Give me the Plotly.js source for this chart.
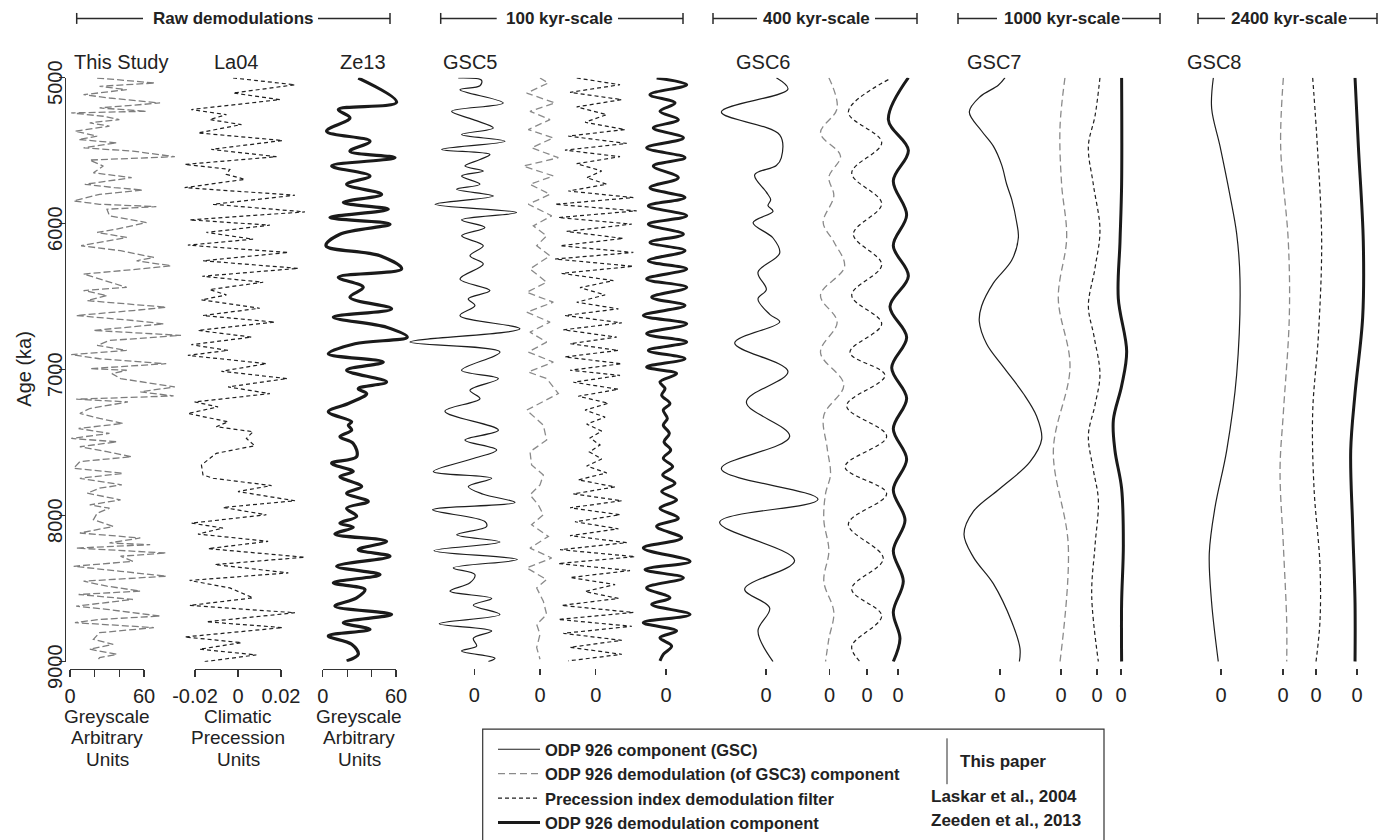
<!DOCTYPE html>
<html>
<head>
<meta charset="utf-8">
<script src="https://cdn.plot.ly/plotly-3.0.1.min.js"></script>
<style>
  html, body { margin: 0; padding: 0; background: #fff; }
  #chart { width: 1391px; height: 840px; }
</style>
</head>
<body>
<div id="chart"></div>
<script>
// ---------------------------------------------------------------------------
// Records (age in ka, values in the record's own units)
// ---------------------------------------------------------------------------

// This Study: ODP 926 greyscale
const studyAge = [5002,5014,5036,5059,5082,5116,5139,5173,5207,5230,5241,5264,5287,5309,5332,5366,5400,5423,5446,5480,5503,5541,5564,5605,5651,5685,5730,5753,5769,5799,5844,5867,5883,5901,5946,5992,6037,6060,6094,6151,6185,6231,6254,6288,6310,6345,6379,6436,6458,6492,6527,6572,6595,6629,6663,6686,6731,6765,6800,6834,6868,6897,6925,6959,6993,
  7004,7027,7061,7118,7152,7180,7202,7221,7266,7300,7334,7368,7403,7437,7471,7494,7528,7562,7596,7630,7676,7710,7744,7789,7812,7846,7892,7926,7949,7983,8028,8074,8119,8153,8187,8199,8222,8256,8278,8313,8347,8381,8415,8449,8483,8517,8540,8574,8620,8642,8688,8711,8733,8767,8802,8847,8881,8915,8950,8972,8995];
const studyGrey = [22,38,69,24,46,11,32,73,24,62,1,27,40,16,32,4,22,7,38,11,51,85,16,27,19,50,12,36,59,24,3,24,70,30,32,62,38,22,46,9,41,68,54,82,57,11,24,46,11,30,14,78,51,5,51,76,19,90,32,22,46,1,24,78,16,
  46,34,41,85,57,84,5,47,16,8,24,43,7,32,1,38,8,30,50,8,3,43,8,42,24,14,41,16,32,22,19,35,8,57,32,65,5,78,41,51,3,41,78,11,30,57,7,51,5,30,73,24,4,68,24,19,35,16,38,24,22];

// La04: climatic precession
const la04Age = [5002,5048,5105,5150,5218,5253,5287,5321,5378,5430,5491,5541,5594,5628,5662,5696,5753,5805,5867,5919,5974,6010,6060,6106,6147,6197,6254,6306,6360,6401,6451,6488,6522,6579,6629,6674,6731,6777,6829,6868,6902,6959,
  7011,7061,7118,7164,7221,7255,7300,7357,7391,7425,7471,7521,7573,7607,7653,7721,7744,7794,7835,7898,7944,7994,8051,8085,8126,8176,8226,8285,8335,8392,8444,8495,8563,8615,8665,8727,8767,8831,8870,8915,8954,9000];
const la04Prec = [-0.0023,0.0265,-0.0023,0.0195,-0.0217,-0.0054,-0.0132,0.0016,-0.0186,0.0207,-0.0124,0.0179,-0.0248,-0.0038,-0.0054,0.0032,-0.0248,0.0265,-0.0116,0.0311,-0.0225,0.0148,-0.0147,0.0070,-0.0233,0.0234,-0.0163,0.0280,-0.0166,0.0117,-0.0132,-0.0054,-0.0170,0.0101,-0.0163,0.0171,-0.0186,0.0063,-0.0217,-0.0046,-0.0233,0.0132,
  -0.0077,0.0229,-0.0046,0.0148,-0.0202,-0.0093,-0.0233,-0.0046,-0.0101,0.0070,0.0039,0.0078,-0.0101,-0.0132,-0.0170,-0.0163,-0.0116,0.0156,0.0000,0.0265,-0.0070,0.0132,-0.0217,-0.0070,-0.0186,0.0140,-0.0139,0.0311,-0.0108,0.0234,-0.0225,-0.0038,0.0070,-0.0225,0.0265,-0.0147,0.0207,-0.0248,0.0016,-0.0179,0.0085,-0.0155];

// Ze13: greyscale
const ze13Age = [5002,5168,5218,5275,5366,5435,5503,5548,5605,5673,5730,5799,5855,5901,5958,6003,6072,6151,6220,6310,6367,6436,6504,6583,6640,6709,6777,6822,6891,6948,7004,
  7084,7130,7164,7232,7289,7357,7380,7414,7459,7505,7596,7641,7698,7732,7801,7846,7903,7949,8005,8051,8080,8126,8176,8233,8278,8347,8404,8460,8506,8563,8620,8677,8733,8779,8824,8881,8950,8995];
const ze13Grey = [29.1,60.5,12.8,22.3,3.2,38.7,22.3,59.2,7.3,38.7,19.6,48.2,16.9,53.7,5.9,55.1,14.1,2.7,46.9,64.6,12.8,33.2,22.3,56.4,8.7,52.3,69.2,26.4,4.6,49.6,19.6,
  52.3,29.1,36.0,21.0,4.6,23.7,21.0,23.7,14.1,25.0,27.8,7.3,25.0,14.1,31.9,19.6,37.3,19.6,27.8,14.1,25.0,10.0,52.3,29.1,55.1,11.4,46.9,8.7,34.6,27.8,10.0,56.4,16.9,38.7,4.6,23.7,29.1,19.6];

// GSC5 (100 kyr-scale)
const gsc5CompAge = [5002,5018,5055,5082,5173,5230,5287,5344,5389,5435,5491,5526,5560,5605,5639,5673,5730,5764,5810,5867,5924,5974,6026,6083,6151,6220,6276,6379,6458,6515,6561,6629,6720,6811,6879,7004,
  7061,7141,7198,7284,7414,7482,7550,7612,7698,7744,7801,7853,7910,7960,8040,8074,8131,8181,8240,8301,8358,8404,8460,8517,8567,8613,8677,8740,8790,8840,8893,8927,8977,9000];
const gsc5Comp = [-13.0,5.9,4.6,-11.6,23.5,-18.4,-0.8,15.4,-10.3,24.9,-26.5,12.7,4.6,-7.6,7.3,-10.3,4.6,-14.3,15.4,-31.9,34.3,-10.3,8.6,-10.3,7.3,-3.5,7.3,-11.6,12.7,-4.9,0.5,-11.6,37.0,-52.2,20.8,-10.3,
  19.5,-3.5,4.6,-23.8,19.5,-7.6,18.1,-2.2,-33.2,14.1,-4.9,7.3,33.0,-33.8,8.6,10.0,-14.3,20.8,-32.7,34.9,-17.0,0.5,-3.5,-19.7,14.1,-0.8,20.8,-28.4,14.1,-0.8,1.9,-10.3,16.8,11.4];

const gsc5DemAge = [5002,5036,5105,5173,5230,5287,5355,5412,5480,5548,5605,5673,5730,5799,5867,5946,6015,6083,6151,6220,6310,6401,6470,6538,6606,6674,6743,6811,6879,6948,7016,
  7061,7164,7277,7380,7482,7562,7653,7721,7789,7858,7926,7994,8062,8142,8222,8290,8358,8438,8495,8586,8677,8745,8813,8904,8984];
const gsc5Dem = [0,6.8,-10.8,12.2,-8.1,8.1,-9.5,10.8,-6.8,14.9,-13.5,10.8,-8.1,8.1,-9.5,9.5,-5.4,5.4,-2.7,8.1,-8.1,5.4,-10.8,10.8,-10.8,8.1,-8.1,5.4,-9.5,10.8,-9.5,
  5.4,14.9,-10.8,2.7,5.4,-8.1,-6.8,2.7,0,-8.1,-1.4,2.7,-6.8,6.8,-8.1,9.5,-10.8,5.4,-2.7,2.7,5.4,-2.7,0,-2.7,0];

const gsc5LaAge = [5002,5048,5100,5150,5200,5253,5305,5355,5400,5450,5496,5541,5589,5639,5685,5730,5776,5821,5867,5912,5958,6003,6053,6101,6151,6197,6242,6292,6340,6390,6438,6488,6538,6583,6629,6679,6727,6777,6822,6868,6913,6959,7004,
  7039,7086,7134,7182,7230,7277,7325,7373,7421,7468,7516,7564,7612,7660,7707,7755,7803,7851,7898,7946,7994,8042,8090,8137,8185,8233,8281,8328,8376,8424,8472,8520,8567,8615,8663,8711,8758,8806,8854,8902,8950,8995];
const gsc5La = [-15.4,19.7,-20.8,21.1,-15.4,8.9,-8.6,23.8,-22.2,25.1,-24.9,19.7,-15.4,4.9,-7.3,8.9,-22.2,30.5,-33.0,33.2,-30.3,29.2,-23.5,22.4,-28.9,30.5,-33.0,30.5,-27.6,14.3,-12.7,7.6,-15.4,18.4,-24.9,21.1,-26.2,17.0,-20.8,18.4,-24.9,21.1,-20.8,
  19.7,-18.1,18.4,-14.1,10.3,-8.6,7.6,-7.3,4.9,-4.6,3.5,-5.1,4.9,-7.3,8.9,-14.1,15.7,-18.1,21.1,-20.8,19.7,-16.8,18.4,-20.8,25.1,-28.9,31.9,-30.3,27.8,-20.8,15.7,-8.6,18.4,-27.6,30.5,-30.3,29.2,-26.2,21.1,-20.8,21.1,-22.2];

const gsc5ZeAge = [5002,5048,5116,5173,5230,5287,5344,5412,5480,5548,5605,5685,5753,5821,5878,5946,6003,6072,6128,6185,6254,6310,6379,6436,6504,6561,6629,6686,6754,6811,6868,6925,6982,
  7027,7084,7130,7175,7232,7277,7334,7380,7437,7494,7550,7607,7664,7721,7778,7835,7892,7949,8017,8074,8153,8222,8313,8369,8426,8495,8563,8608,8677,8733,8790,8836,8893,8950,8995];
const gsc5Ze = [-7.6,16.8,-13.0,7.3,-4.9,10.0,-10.3,14.1,-15.7,15.4,-10.3,10.0,-13.0,15.4,-14.3,16.8,-14.3,14.1,-13.0,15.4,-14.3,16.8,-15.7,16.8,-11.6,15.4,-18.4,16.8,-15.7,16.8,-14.3,15.4,-15.7,
  8.6,-4.9,-0.8,-3.5,3.2,-2.2,1.1,-2.2,2.7,-1.6,3.8,-2.2,5.4,-2.7,7.3,-3.5,8.6,-4.9,10.0,-7.6,12.7,-18.4,19.5,-17.0,14.1,-15.7,3.2,-11.6,19.5,-18.4,8.6,-4.9,4.6,-2.2,-4.9];

// GSC6 (400 kyr-scale)
const gsc6CompAge = [5000,5078,5235,5392,5549,5601,5666,5784,5836,5876,5915,5993,6098,6202,6333,6451,6516,6621,6673,6817,7013,7222,7457,7679,7888,8045,8307,8503,8633,8790,9000];
const gsc6Comp = [8.4,17.8,-36.2,11.1,12.4,8.4,-9.2,0.3,3.8,1.6,5.7,-10.5,5.7,11.1,-6.5,0.3,-6.5,3.0,11.1,-25.4,17.8,-15.9,19.2,-36.2,42.2,-37.6,23.2,-17.3,3.0,-6.5,5.7];
const gsc6DemAge = [5000,5209,5379,5536,5680,5810,5993,6124,6294,6490,6673,6882,7104,7313,7536,7719,7849,8032,8241,8450,8660,8843,9000];
const gsc6Dem = [-0.5,6.2,-7.3,8.9,-0.5,3.5,-5.1,3.5,12.2,-7.3,6.2,-7.3,11.6,-4.6,-1.9,0.8,-3.2,-4.6,-0.5,-4.6,3.5,-0.5,-3.2];
const gsc6LaAge = [5013,5235,5444,5653,5863,6072,6281,6490,6686,6882,7039,7248,7457,7666,7849,8058,8294,8503,8686,8895,9000];
const gsc6La = [17.3,-15.1,11.9,-12.4,11.9,-11.1,11.9,-12.4,11.9,-13.8,14.6,-16.5,15.9,-17.8,15.9,-15.1,13.2,-12.4,11.9,-12.4,-5.7];
const gsc6ZeAge = [5000,5288,5497,5706,5941,6150,6359,6568,6778,6987,7196,7405,7614,7823,8032,8241,8450,8660,8843,9000];
const gsc6Ze = [8.4,-7.8,8.4,-3.8,7.0,-3.8,8.4,-6.5,7.0,-5.1,7.0,-3.8,7.0,-3.8,5.7,-3.8,4.3,-3.8,1.6,-3.8];

// GSC7 (1000 kyr-scale)
const gsc7CompAge = [5000,5052,5130,5235,5365,5469,5599,5730,5834,5990,6095,6251,6407,6564,6668,6824,6981,7163,7319,7476,7632,7814,7971,8127,8284,8466,8727,8909,9000];
const gsc7Comp = [4.1,-1.4,-16.2,-24.9,-14.9,-5.4,1.4,5.4,9.5,13.5,14.9,9.5,-5.4,-14.9,-16.8,-10.8,2.7,18.9,29.7,33.8,24.3,0,-21.6,-29.2,-21.6,-5.4,9.5,16.2,15.7];
const gsc7DemAge = [5000,5339,5730,6095,6511,6981,7554,8205,9000];
const gsc7Dem = [3.2,-0.8,0.5,4.6,-2.2,7.3,-6.2,5.9,-0.8];
const gsc7LaAge = [5000,5261,5469,5730,6042,6303,6564,6772,7033,7241,7450,7684,7893,8205,8544,9000];
const gsc7La = [2.4,-1.6,-7.0,-3.0,2.4,-1.6,-7.0,-2.4,2.4,-1.6,-7.0,-3.0,1.1,-1.6,-4.3,1.1];
const gsc7ZeAge = [5000,5730,6121,6511,6876,7111,7345,7554,7814,8205,8596,9000];
const gsc7Ze = [0.5,0.5,-0.8,-2.2,4.6,0.5,-6.2,-4.9,0.5,1.9,0.5,0.5];

// GSC8 (2400 kyr-scale)
const gsc8CompAge = [5000,5209,5469,5808,6068,6381,7033,7554,7945,8258,8597,9000];
const gsc8Comp = [-6.2,-7.6,-0.8,7.3,12.7,15.4,12.7,4.6,-4.9,-9.5,-7.6,-2.2];
const gsc8DemAge = [5000,5469,6121,6642,7293,7684,8205,8727,9000];
const gsc8Dem = [0.3,-1.9,4.3,5.1,0.3,-2.4,0.3,3.0,3.0];
const gsc8LaAge = [5000,5469,6121,6772,7293,7814,8336,8727,9000];
const gsc8La = [-2.7,1.1,4.6,1.9,-2.7,-1.6,3.2,3.2,0];
const gsc8ZeAge = [5000,5469,6121,6642,7163,7554,8075,8597,9000];
const gsc8Ze = [-1.6,1.1,5.1,4.6,-1.6,-5.1,-3.5,-1.6,-1.6];

// Tick labels
const ageTicks = [5000, 6000, 7000, 8000, 9000];
const greyTicks = [0, 20, 40, 60];
const greyTickText = ['0', '', '', '60'];
const precTicks = [-0.02, 0, 0.02];
const precTickText = ['-0.02', '0', '0.02'];

// Legend and panel text
const legendNames = [
  'ODP 926 component (GSC)',
  'ODP 926 demodulation (of GSC3) component',
  'Precession index demodulation filter',
  'ODP 926 demodulation component'
];
const sourceLabels = ['This paper', 'Laskar et al., 2004', 'Zeeden et al., 2013'];

// ---------------------------------------------------------------------------
// Page geometry helpers
// ---------------------------------------------------------------------------
const W = 1391, H = 840;
const fx = p => p / W;           // pixel column -> paper x
const fy = p => 1 - p / H;       // pixel row    -> paper y
const FONT = 'Liberation Sans, Arial, Helvetica, sans-serif';
const INK = '#222';
const AXIS_ROW = 671;            // row of the bottom axes
const GREY_PPU = 74 / 60;        // pixels per greyscale unit

const axKey = id => id === 'x' ? 'xaxis' : 'xaxis' + id.slice(1);

const layout = {
  width: W, height: H,
  margin: { l: 0, r: 0, t: 0, b: 0 },
  paper_bgcolor: '#ffffff',
  plot_bgcolor: 'rgba(0,0,0,0)',
  font: { family: FONT, color: INK, size: 20 },
  hovermode: false,
  showlegend: true,
  legend: {
    x: fx(493), y: fy(735), xanchor: 'left', yanchor: 'top',
    bgcolor: 'rgba(0,0,0,0)', borderwidth: 0,
    font: { family: FONT, size: 16.5, color: INK, weight: 'bold' },
    itemwidth: 42, tracegroupgap: 0, traceorder: 'normal'
  },
  yaxis: {
    domain: [fy(664), fy(78)],
    range: [9000, 5000],
    anchor: 'free', position: fx(65),
    showline: true, linecolor: '#333', linewidth: 1.2,
    ticks: 'outside', ticklen: 6, tickwidth: 1.2, tickcolor: '#333',
    tickmode: 'array', tickvals: ageTicks, ticktext: ageTicks.map(String),
    tickangle: -90, ticklabelstandoff: -11, ticklabelshift: -8,
    tickfont: { size: 20, color: INK },
    showgrid: false, zeroline: false, fixedrange: true
  },
  shapes: [],
  annotations: []
};

const traces = [];

function addTrace(x, y, xaxis, line, name, inLegend) {
  traces.push({
    type: 'scatter', mode: 'lines', x: x, y: y,
    xaxis: xaxis, yaxis: 'y', line: line,
    name: name || '', showlegend: !!inLegend, hoverinfo: 'skip'
  });
}

// Raw panels: a labelled axis spanning the ticks, plus a wider hidden axis
// of identical scale that carries the curve so excursions are not clipped.
function rawPanel(dispId, dataId, tickL, tickR, v0, v1, dataL, dataR, tickvals, ticktext) {
  const ppu = (tickR - tickL) / (v1 - v0);
  layout[axKey(dispId)] = {
    domain: [fx(tickL), fx(tickR)], range: [v0, v1],
    anchor: 'free', position: fy(AXIS_ROW),
    showline: true, linecolor: '#333', linewidth: 1.2,
    ticks: 'outside', ticklen: 7, tickwidth: 1.2, tickcolor: '#333',
    tickmode: 'array', tickvals: tickvals, ticktext: ticktext,
    ticklabelstandoff: 2, tickfont: { size: 20, color: INK },
    showgrid: false, zeroline: false, fixedrange: true
  };
  layout[axKey(dataId)] = {
    domain: [fx(dataL), fx(dataR)],
    range: [v0 - (tickL - dataL) / ppu, v1 + (dataR - tickR) / ppu],
    visible: false, anchor: 'y', fixedrange: true
  };
  // keep the labelled axis attached to a subplot
  traces.push({ type: 'scatter', mode: 'lines', x: [], y: [], xaxis: dispId, yaxis: 'y', showlegend: false, hoverinfo: 'skip' });
}

// Component axes: only a "0" tick under each curve.
function zeroAxis(id, zeroPx) {
  const w = Math.min(78, W - zeroPx - 2);
  layout[axKey(id)] = {
    domain: [fx(zeroPx - w), fx(zeroPx + w)],
    range: [-w / GREY_PPU, w / GREY_PPU],
    anchor: 'free', position: fy(AXIS_ROW - 1),
    showline: false, ticks: 'outside', ticklen: 6, tickwidth: 1.2, tickcolor: '#333',
    tickmode: 'array', tickvals: [0], ticktext: ['0'],
    ticklabelstandoff: 3, tickfont: { size: 20, color: INK },
    showgrid: false, zeroline: false, fixedrange: true
  };
}

const STYLE = {
  study: { color: '#7d7d7d', width: 1.3, dash: '7px,3px' },
  la04:  { color: '#1f1f1f', width: 1.2, dash: '4px,3px' },
  ze13:  { color: '#1a1a1a', width: 3.2, shape: 'spline', smoothing: 1 },
  comp:  { color: '#1e1e1e', width: 1.2, shape: 'spline', smoothing: 1 },
  demod: { color: '#8a8a8a', width: 1.3, dash: '7px,4px', shape: 'spline', smoothing: 1 },
  laFlt: { color: '#1f1f1f', width: 1.2, dash: '4px,3px', shape: 'spline', smoothing: 1 },
  zeDem: { color: '#1a1a1a', width: 3.0, shape: 'spline', smoothing: 1 }
};
const linear = s => Object.assign({}, s, { shape: 'linear' });

// Raw demodulation panels
rawPanel('x', 'x2', 70, 144, 0, 60, 62, 205, greyTicks, greyTickText);
addTrace(studyGrey, studyAge, 'x2', STYLE.study);
rawPanel('x3', 'x4', 195, 281, -0.02, 0.02, 176, 318, precTicks, precTickText);
addTrace(la04Prec, la04Age, 'x4', STYLE.la04);
rawPanel('x5', 'x6', 322.7, 396, 0, 60, 314, 422, greyTicks, greyTickText);
addTrace(ze13Grey, ze13Age, 'x6', STYLE.ze13);

// Component groups: [zero column, series values, ages, style, legend name]
const groups = [
  [[474.3, gsc5Comp, gsc5CompAge, STYLE.comp, 0],
   [540,   gsc5Dem,  gsc5DemAge,  linear(STYLE.demod), 1],
   [595.7, gsc5La,   gsc5LaAge,   linear(STYLE.laFlt), 2],
   [666,   gsc5Ze,   gsc5ZeAge,   STYLE.zeDem, 3]],
  [[766,   gsc6Comp, gsc6CompAge, STYLE.comp],
   [829.5, gsc6Dem,  gsc6DemAge,  STYLE.demod],
   [867,   gsc6La,   gsc6LaAge,   STYLE.laFlt],
   [898,   gsc6Ze,   gsc6ZeAge,   STYLE.zeDem]],
  [[1000,  gsc7Comp, gsc7CompAge, STYLE.comp],
   [1061,  gsc7Dem,  gsc7DemAge,  STYLE.demod],
   [1097,  gsc7La,   gsc7LaAge,   STYLE.laFlt],
   [1121,  gsc7Ze,   gsc7ZeAge,   STYLE.zeDem]],
  [[1221,  gsc8Comp, gsc8CompAge, STYLE.comp],
   [1283,  gsc8Dem,  gsc8DemAge,  STYLE.demod],
   [1316,  gsc8La,   gsc8LaAge,   STYLE.laFlt],
   [1357,  gsc8Ze,   gsc8ZeAge,   STYLE.zeDem]]
];

let axisNo = 7;
groups.forEach(g => g.forEach(([zero, vals, ages, style, legendIdx]) => {
  const id = 'x' + axisNo++;
  zeroAxis(id, zero);
  const inLegend = legendIdx !== undefined;
  addTrace(vals, ages, id, style, inLegend ? legendNames[legendIdx] : '', inLegend);
}));

// ---------------------------------------------------------------------------
// Headers, panel titles, axis titles
// ---------------------------------------------------------------------------
const headers = [
  { text: 'Raw demodulations', left: [76.7, 143], right: [318, 390], cx: 233 },
  { text: '100 kyr-scale',     left: [440.7, 496.7], right: [618, 683], cx: 559 },
  { text: '400 kyr-scale',     left: [713, 757], right: [875, 917], cx: 816.5 },
  { text: '1000 kyr-scale',    left: [958, 997], right: [1122, 1160], cx: 1061.5 },
  { text: '2400 kyr-scale',    left: [1198, 1225], right: [1349, 1377], cx: 1288.5 }
];
const HEAD_ROW = 18.5;
const seg = (x0, y0, x1, y1, width) => ({
  type: 'line', xref: 'paper', yref: 'paper',
  x0: fx(x0), y0: fy(y0), x1: fx(x1), y1: fy(y1),
  line: { color: '#2a2a2a', width: width || 1.5 }
});
headers.forEach(h => {
  layout.shapes.push(seg(h.left[0], HEAD_ROW, h.left[1], HEAD_ROW));
  layout.shapes.push(seg(h.right[0], HEAD_ROW, h.right[1], HEAD_ROW));
  layout.shapes.push(seg(h.left[0], 13, h.left[0], 24));
  layout.shapes.push(seg(h.right[1], 13, h.right[1], 24));
  layout.annotations.push({
    text: h.text, xref: 'paper', yref: 'paper', x: fx(h.cx), y: fy(HEAD_ROW),
    xanchor: 'center', yanchor: 'middle', showarrow: false,
    font: { size: 17, weight: 'bold', color: INK }
  });
});

const panelTitles = [
  ['This Study', 121], ['La04', 236], ['Ze13', 363],
  ['GSC5', 470], ['GSC6', 762.5], ['GSC7', 994], ['GSC8', 1213.5]
];
panelTitles.forEach(([t, cx]) => layout.annotations.push({
  text: t, xref: 'paper', yref: 'paper', x: fx(cx), y: fy(62),
  xanchor: 'center', yanchor: 'middle', showarrow: false,
  font: { size: 20, color: INK }
}));

// Age axis title
layout.annotations.push({
  text: 'Age (ka)', xref: 'paper', yref: 'paper', x: fx(24), y: fy(370),
  xanchor: 'center', yanchor: 'middle', textangle: -90, showarrow: false,
  font: { size: 20, color: INK }
});

// Bottom axis titles, one line each so the rows sit tightly together
const axisTitles = [
  [107,   ['Greyscale', 'Arbitrary', 'Units']],
  [238,   ['Climatic', 'Precession', 'Units']],
  [359.3, ['Greyscale', 'Arbitrary', 'Units']]
];
const TITLE_ROWS = [719, 740.5, 762];
axisTitles.forEach(([cx, lines]) => lines.forEach((t, i) => layout.annotations.push({
  text: t, xref: 'paper', yref: 'paper', x: fx(cx), y: fy(TITLE_ROWS[i]),
  xanchor: 'center', yanchor: 'middle', showarrow: false,
  borderpad: 0, font: { size: 19, color: INK }
})));

// ---------------------------------------------------------------------------
// Legend frame and source column
// ---------------------------------------------------------------------------
layout.shapes.push({
  type: 'rect', xref: 'paper', yref: 'paper',
  x0: fx(482.7), x1: fx(1104), y0: fy(731.7), y1: fy(870),
  line: { color: '#333', width: 1.2 }, fillcolor: 'rgba(0,0,0,0)'
});
layout.shapes.push(seg(947, 741, 947, 787, 1));
[[sourceLabels[0], 958, 764], [sourceLabels[1], 929, 799], [sourceLabels[2], 929, 823]]
  .forEach(([t, x, y]) => layout.annotations.push({
    text: t, xref: 'paper', yref: 'paper', x: fx(x), y: fy(y),
    xanchor: 'left', yanchor: 'middle', showarrow: false,
    font: { size: 17, weight: 'bold', color: INK }
  }));

Plotly.newPlot('chart', traces, layout, { staticPlot: true, displayModeBar: false });
</script>
</body>
</html>
